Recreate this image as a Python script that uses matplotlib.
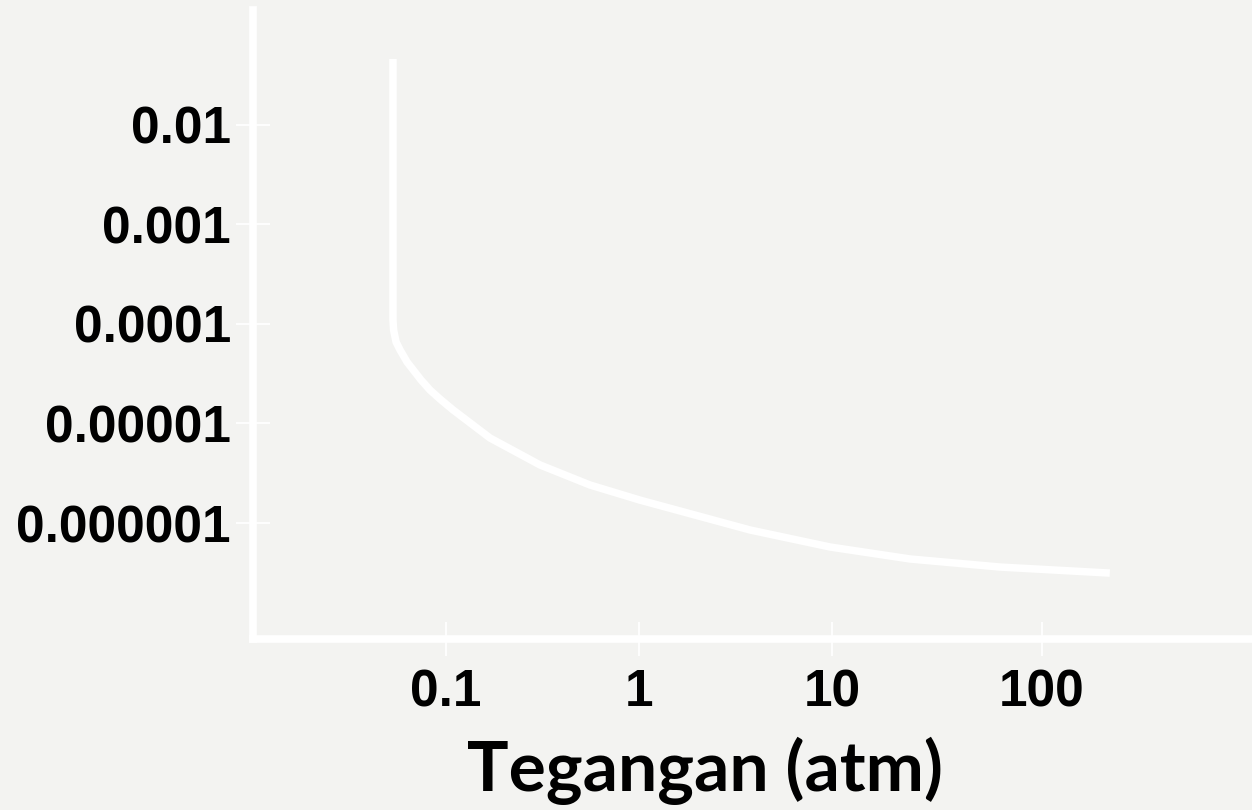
"""
Kurva tegangan (atm) vs nilai pada sumbu y (skala log-log).
Garis putih di atas latar abu-abu muda, tanpa judul sumbu y.
"""

import numpy as np
import matplotlib

matplotlib.use("Agg")
import matplotlib.pyplot as plt

# --------------------------------------------------------------------------
# Data
# --------------------------------------------------------------------------
tegangan = [0.0531, 0.0531, 0.0535, 0.0551, 0.0578, 0.0628, 0.0742, 0.0826,
            0.0931, 0.1087, 0.1254, 0.169, 0.307, 0.557, 1.01, 3.76, 9.77,
            25.4, 74.2, 275.0]
nilai_y = [4.6e-2, 1.10e-4, 8.7e-5, 6.59e-5, 5.48e-5, 4.15e-5, 2.74e-5,
           2.17e-5, 1.76e-5, 1.37e-5, 1.11e-5, 7.15e-6, 3.83e-6, 2.41e-6,
           1.70e-6, 8.51e-7, 5.74e-7, 4.35e-7, 3.61e-7, 3.14e-7]

xtick_pos = [0.1, 1, 10, 122]
xtick_lbl = ["0.1", "1", "10", "100"]
ytick_pos = [1e-2, 1e-3, 1e-4, 1e-5, 1e-6]
ytick_lbl = ["0.01", "0.001", "0.0001", "0.00001", "0.000001"]

LATAR = "#f3f3f1"
PUTIH = "white"
FONT_ANGKA = dict(family="Liberation Sans", fontweight="bold", fontsize=37)
FONT_JUDUL = ["Lato", "DejaVu Sans"]


def main():
    fig = plt.figure(figsize=(12.52, 8.10), dpi=100, facecolor=LATAR)
    ax = fig.add_axes([0.2021, 0.2111, 0.7979, 0.7766])
    ax.set_facecolor(LATAR)

    ax.plot(tegangan, nilai_y, color=PUTIH, linewidth=5.4,
            solid_capstyle="butt", solid_joinstyle="round")

    ax.set_xscale("log")
    ax.set_yscale("log")
    ax.set_xlim(0.01, 1500)
    ax.set_ylim(6.83e-8, 0.143)

    # sumbu: hanya kiri dan bawah, putih tebal
    for s in ("top", "right"):
        ax.spines[s].set_visible(False)
    for s in ("left", "bottom"):
        ax.spines[s].set_color(PUTIH)
        ax.spines[s].set_linewidth(5.5)

    ax.minorticks_off()
    ax.set_xticks(xtick_pos)
    ax.set_xticklabels(xtick_lbl, **FONT_ANGKA)
    ax.set_yticks(ytick_pos)
    ax.set_yticklabels(ytick_lbl, **FONT_ANGKA)
    ax.tick_params(axis="both", which="major", direction="inout",
                   length=24, width=1.3, color=PUTIH, labelcolor="black")
    ax.tick_params(axis="x", pad=9)
    ax.tick_params(axis="y", pad=4)

    ax.set_xlabel("Tegangan (atm)", family=FONT_JUDUL, fontweight="bold",
                  fontsize=50, color="black")
    ax.xaxis.set_label_coords(0.4525, -0.21)
    ax.xaxis.label.set_verticalalignment("center")

    fig.savefig("out.png", dpi=100, facecolor=LATAR)
    plt.close(fig)


if __name__ == "__main__":
    main()
